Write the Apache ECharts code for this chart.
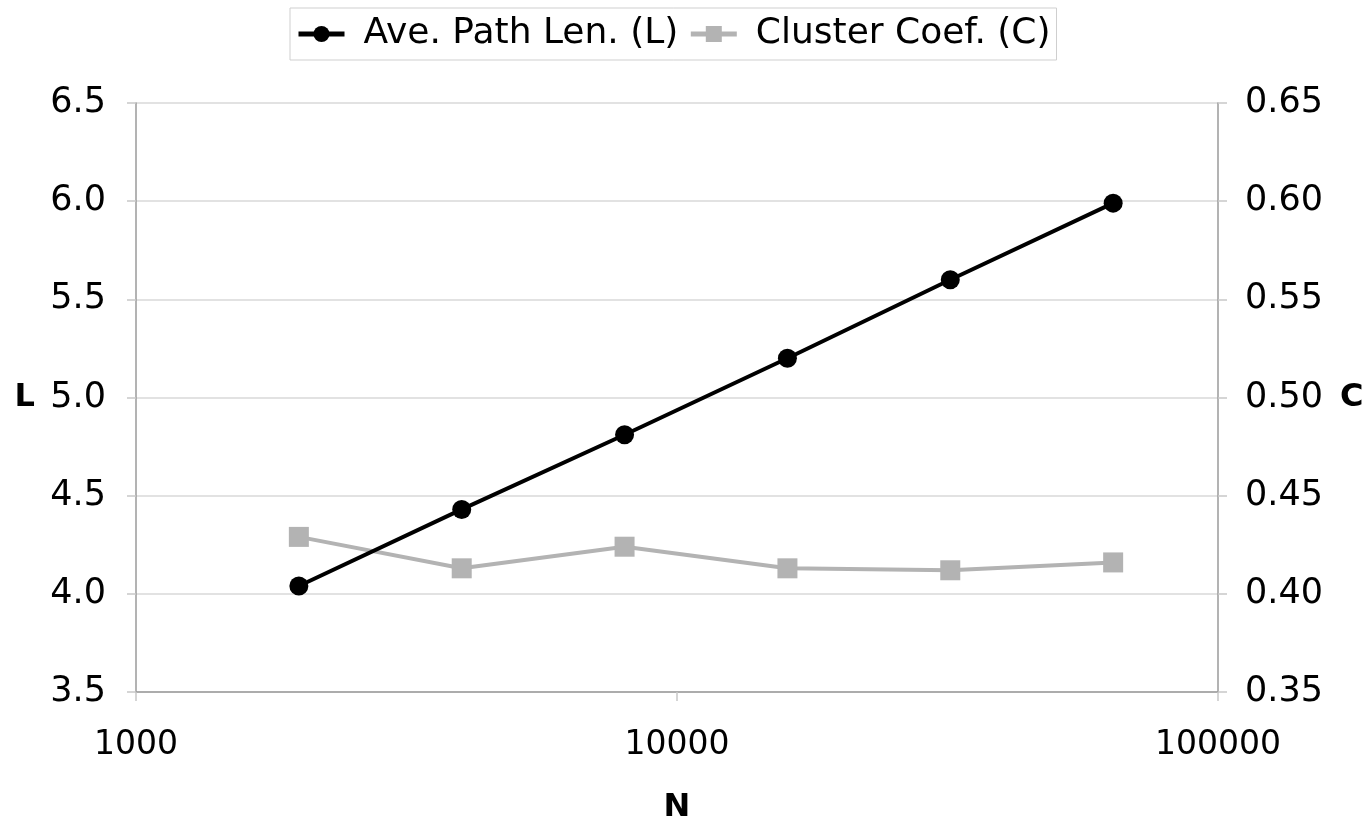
<!DOCTYPE html>
<html>
<head>
<meta charset="utf-8">
<script src="https://cdn.jsdelivr.net/npm/echarts@6/dist/echarts.min.js"></script>
<style>
html,body{margin:0;padding:0;background:#fff;}
#chart{width:1368px;height:820px;}
</style>
</head>
<body>
<div id="chart"></div>
<script>
var nValues = [2000, 4000, 8000, 16000, 32000, 64000];
var pathLen = [4.04, 4.43, 4.81, 5.20, 5.60, 5.99];
var clusterCoef = [0.429, 0.413, 0.424, 0.413, 0.412, 0.416];
var seriesNames = ['Ave. Path Len. (L)', 'Cluster Coef. (C)'];

var FONT = 'DejaVu Sans';
var chart = echarts.init(document.getElementById('chart'), null, {renderer: 'canvas'});

function pairs(xs, ys) { return xs.map(function (x, i) { return [x, ys[i]]; }); }

chart.setOption({
  animation: false,
  backgroundColor: '#ffffff',
  textStyle: {fontFamily: FONT, color: '#000'},
  legend: {
    top: 8,
    left: 290,
    padding: [8, 6, 8, 6],
    borderColor: '#cfcfcf',
    borderWidth: 1,
    itemWidth: 46,
    itemHeight: 20,
    itemGap: 10,
    lineStyle: {width: 5},
    textStyle: {fontFamily: FONT, fontSize: 36, color: '#000', padding: [0, 0, 0, 14]},
    data: seriesNames
  },
  grid: {left: 136, right: 150, top: 103, bottom: 128, containLabel: false, outerBoundsMode: 'none'},
  xAxis: {
    type: 'log',
    logBase: 10,
    min: 1000,
    max: 100000,
    name: 'N',
    nameLocation: 'middle',
    nameGap: 100,
    nameTextStyle: {fontFamily: FONT, fontSize: 32, fontWeight: 'bold', color: '#000'},
    axisLine: {show: true, lineStyle: {color: '#9a9a9a', width: 1.5}},
    axisTick: {show: true, length: 9, lineStyle: {color: '#c8c8c8', width: 1.5}},
    minorTick: {show: false},
    splitLine: {show: false},
    axisLabel: {fontFamily: FONT, fontSize: 33, color: '#000', margin: 37, formatter: function (v) { return String(Math.round(v)); }}
  },
  yAxis: [
    {
      type: 'value',
      min: 3.5,
      max: 6.5,
      interval: 0.5,
      position: 'left',
      name: 'L',
      nameLocation: 'middle',
      nameRotate: 0,
      nameGap: 101,
      nameTextStyle: {fontFamily: FONT, fontSize: 32, fontWeight: 'bold', color: '#000'},
      axisLine: {show: true, lineStyle: {color: '#9a9a9a', width: 1.5}},
      axisTick: {show: true, length: 9, lineStyle: {color: '#c8c8c8', width: 1.5}},
      splitLine: {show: true, lineStyle: {color: '#e2e2e2', width: 2}},
      axisLabel: {fontFamily: FONT, fontSize: 35, color: '#000', margin: 30, formatter: function (v) { return v.toFixed(1); }}
    },
    {
      type: 'value',
      min: 0.35,
      max: 0.65,
      interval: 0.05,
      position: 'right',
      name: 'C',
      nameLocation: 'middle',
      nameRotate: 0,
      nameGap: 122,
      nameTextStyle: {fontFamily: FONT, fontSize: 32, fontWeight: 'bold', color: '#000'},
      axisLine: {show: true, lineStyle: {color: '#9a9a9a', width: 1.5}},
      axisTick: {show: true, length: 9, lineStyle: {color: '#c8c8c8', width: 1.5}},
      splitLine: {show: false},
      axisLabel: {fontFamily: FONT, fontSize: 35, color: '#000', margin: 27, formatter: function (v) { return v.toFixed(2); }}
    }
  ],
  series: [
    {
      name: seriesNames[0],
      type: 'line',
      yAxisIndex: 0,
      data: pairs(nValues, pathLen),
      symbol: 'circle',
      symbolSize: 19,
      itemStyle: {color: '#000'},
      lineStyle: {color: '#000', width: 4},
      z: 3
    },
    {
      name: seriesNames[1],
      type: 'line',
      yAxisIndex: 1,
      data: pairs(nValues, clusterCoef),
      symbol: 'rect',
      symbolSize: 20,
      itemStyle: {color: '#b3b3b3'},
      lineStyle: {color: '#b3b3b3', width: 4},
      z: 2
    }
  ]
});
</script>
</body>
</html>
